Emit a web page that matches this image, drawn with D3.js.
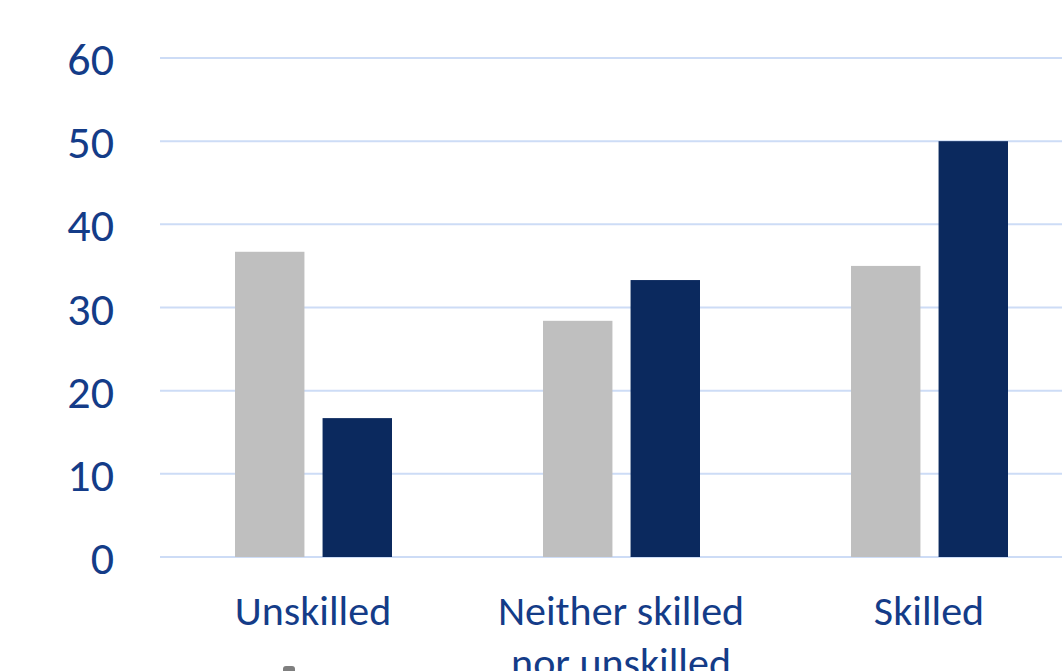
<!DOCTYPE html>
<html>
<head>
<meta charset="utf-8">
<script src="https://cdn.jsdelivr.net/npm/d3@7"></script>
<style>
  body { margin: 0; background: #fff; overflow: hidden; }
  text { font-family: Carlito, Lato, "Noto Sans", sans-serif; }
</style>
</head>
<body>
<svg id="chart" width="1062" height="671"></svg>
<script>
var categories = ["Unskilled", "Neither skilled nor unskilled", "Skilled"];
var series = ["Series 1", "Series 2"];
var series1 = [36.7, 28.4, 35.0];
var series2 = [16.7, 33.3, 50.0];
var yTicks = [0, 10, 20, 30, 40, 50, 60];
var colors = ["#bfbfbf", "#0b295e"];

var svg = d3.select("#chart");
var plotLeft = 159, plotRight = 1083, plotTop = 58, plotBottom = 557;
var labelColor = "#143c88";

var y = d3.scaleLinear().domain([0, 60]).range([plotBottom, plotTop]);
var x0 = d3.scaleBand().domain(categories).range([plotLeft, plotRight]);
var x1 = d3.scaleBand().domain(series).range([76, 233]).paddingInner(0.207);

// gridlines
svg.append("g")
  .selectAll("line").data(yTicks).enter()
  .append("line")
  .attr("x1", plotLeft + 1)
  .attr("x2", plotRight)
  .attr("y1", function(d) { return y(d); })
  .attr("y2", function(d) { return y(d); })
  .attr("stroke", "#cddcf6")
  .attr("stroke-width", 2);

// y axis labels
var yAxis = d3.axisLeft(y).tickValues(yTicks).tickSize(0).tickPadding(0);
var ga = svg.append("g").attr("transform", "translate(114,0)").call(yAxis);
ga.select(".domain").remove();
ga.selectAll("text")
  .attr("fill", labelColor)
  .style("font-size", "46px")
  .attr("dy", "0.36em");

// bars
var table = categories.map(function(c, i) {
  return { cat: c, vals: [series1[i], series2[i]] };
});

var groups = svg.append("g").selectAll("g").data(table).enter()
  .append("g")
  .attr("transform", function(d) { return "translate(" + x0(d.cat) + ",0)"; });

groups.selectAll("rect").data(function(d) {
  return d.vals.map(function(v, j) { return { s: series[j], v: v, j: j }; });
}).enter()
  .append("rect")
  .attr("x", function(d) { return x1(d.s); })
  .attr("width", x1.bandwidth())
  .attr("y", function(d) { return y(d.v); })
  .attr("height", function(d) { return plotBottom - y(d.v); })
  .attr("fill", function(d) { return colors[d.j]; });

// x labels
var xAxis = d3.axisBottom(x0).tickSize(0).tickPadding(0);
var gx = svg.append("g").attr("transform", "translate(0," + plotBottom + ")").call(xAxis);
gx.select(".domain").remove();
gx.selectAll("text").remove();
gx.selectAll(".tick").each(function(d) {
  var t = d3.select(this).append("text")
    .attr("fill", labelColor)
    .attr("text-anchor", "middle")
    .style("font-size", "42px");
  var lines = d === "Neither skilled nor unskilled" ? ["Neither skilled", "nor unskilled"] : [d];
  lines.forEach(function(l, k) {
    t.append("tspan").attr("x", 0).attr("y", 68 + k * 52).text(l);
  });
});

// legend swatch peeking in at the bottom
svg.append("rect")
  .attr("x", 283).attr("y", 666).attr("width", 12).attr("height", 14)
  .attr("rx", 3).attr("fill", "#7f7f7f");
</script>
</body>
</html>
